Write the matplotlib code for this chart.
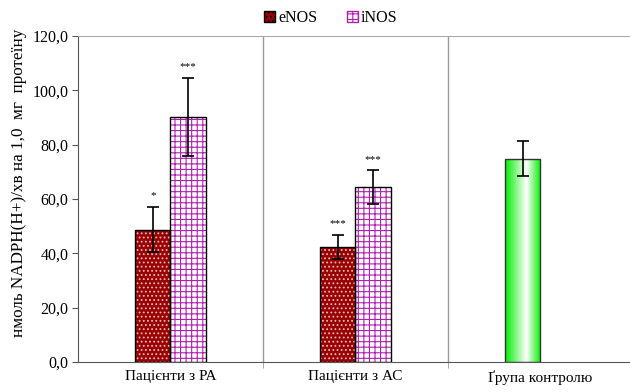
import numpy as np
import matplotlib.pyplot as plt
from matplotlib.colors import LinearSegmentedColormap
from matplotlib.patches import Patch

plt.rcParams['font.family'] = ['Liberation Serif', 'DejaVu Serif']
plt.rcParams['hatch.linewidth'] = 0.8

groups = ['Пацієнти з РА', 'Пацієнти з АС', 'Ґрупа контролю']
enos = [48.7, 42.3]
enos_lo = [40.6, 38.0]
enos_hi = [57.0, 46.8]
enos_star = ['*', '***']
inos = [90.2, 64.3]
inos_lo = [75.8, 58.2]
inos_hi = [104.5, 70.5]
inos_star = ['***', '***']
control = 74.6
control_lo = 68.5
control_hi = 81.2

fig = plt.figure(figsize=(6.3, 3.92), dpi=100)
ax = fig.add_axes([78/630, 1 - 362/392, 1 - 78/630, (362 - 36)/392])

w = 0.19
x = np.arange(len(enos))
xe = x - w / 2
xi = x + w / 2

# eNOS: dark red with fine light dots
ax.bar(xe, enos, w, color='#990000', hatch='....', edgecolor='#e8b8b8', linewidth=0, zorder=2)
ax.bar(xe, enos, w, fill=False, edgecolor='black', linewidth=1.0, zorder=3)
# iNOS: white with magenta bricks
ax.bar(xi, inos, w, color='white', hatch='+++', edgecolor='#b020b0', linewidth=0, zorder=2)
ax.bar(xi, inos, w, fill=False, edgecolor='black', linewidth=1.0, zorder=3)

# control bar with green gradient
xc = 2 - w / 2
cbar = ax.bar([xc], [control], w, color='none', edgecolor='#333333', linewidth=1.0, zorder=3)[0]
cmap = LinearSegmentedColormap.from_list('g', [(0, '#00ee00'), (0.6, '#ffffff'), (1, '#00ee00')])
grad = np.linspace(0, 1, 256).reshape(1, -1)
im = ax.imshow(grad, cmap=cmap, aspect='auto', extent=[xc - w / 2, xc + w / 2, 0, control], zorder=2)
im.set_clip_path(cbar)

ekw = dict(fmt='none', ecolor='black', elinewidth=1.2, capsize=4.5, capthick=1.2, zorder=4)
ax.errorbar(xe, enos, yerr=[np.subtract(enos, enos_lo), np.subtract(enos_hi, enos)], **ekw)
ax.errorbar(xi, inos, yerr=[np.subtract(inos, inos_lo), np.subtract(inos_hi, inos)], **ekw)
ax.errorbar([xc], [control], yerr=[[control - control_lo], [control_hi - control]], **ekw)

for xx, top, s in zip(xe, enos_hi, enos_star):
    ax.text(xx, top + 2.5, s, ha='center', va='bottom', fontsize=8)
for xx, top, s in zip(xi, inos_hi, inos_star):
    ax.text(xx, top + 2.5, s, ha='center', va='bottom', fontsize=8)

ax.set_xlim(-0.5, 2.484)
ax.set_ylim(0, 120)
ax.set_yticks(np.arange(0, 121, 20))
ax.set_yticklabels([f'{v:.1f}'.replace('.', ',') for v in np.arange(0, 121, 20)], fontsize=11.5)
ax.set_xticks([0, 1, 2])
ax.set_xticklabels(groups, fontsize=11)
ax.tick_params(axis='x', length=0, pad=6)
ax.tick_params(axis='y', length=4, color='#555555', pad=3)
ax.set_xticks([0.5, 1.5], minor=True)
ax.tick_params(axis='x', which='minor', length=4, color='#999999')
for b in [0.5, 1.5]:
    ax.axvline(b, color='#999999', linewidth=1.0, zorder=1)

ax.spines['right'].set_visible(False)
ax.spines['top'].set_color('#aaaaaa')
ax.spines['left'].set_color('#555555')
ax.spines['bottom'].set_color('#555555')
ax.set_ylabel('нмоль NADPH(H+)/хв на 1,0  мг  протеїну', fontsize=12.3)
ax.yaxis.set_label_coords(-0.092, 0.549)

# legend
handles = [Patch(facecolor='#990000', edgecolor='black', hatch='....', label='eNOS'),
           Patch(facecolor='white', edgecolor='#b020b0', hatch='+++', label='iNOS')]
fig.legend(handles=handles, loc='upper center', bbox_to_anchor=(0.525, 1.01), ncol=2, frameon=False,
           fontsize=11.5, handlelength=0.7, handleheight=0.7, handletextpad=0.2, columnspacing=1.85)

fig.savefig('out.png', dpi=100)
